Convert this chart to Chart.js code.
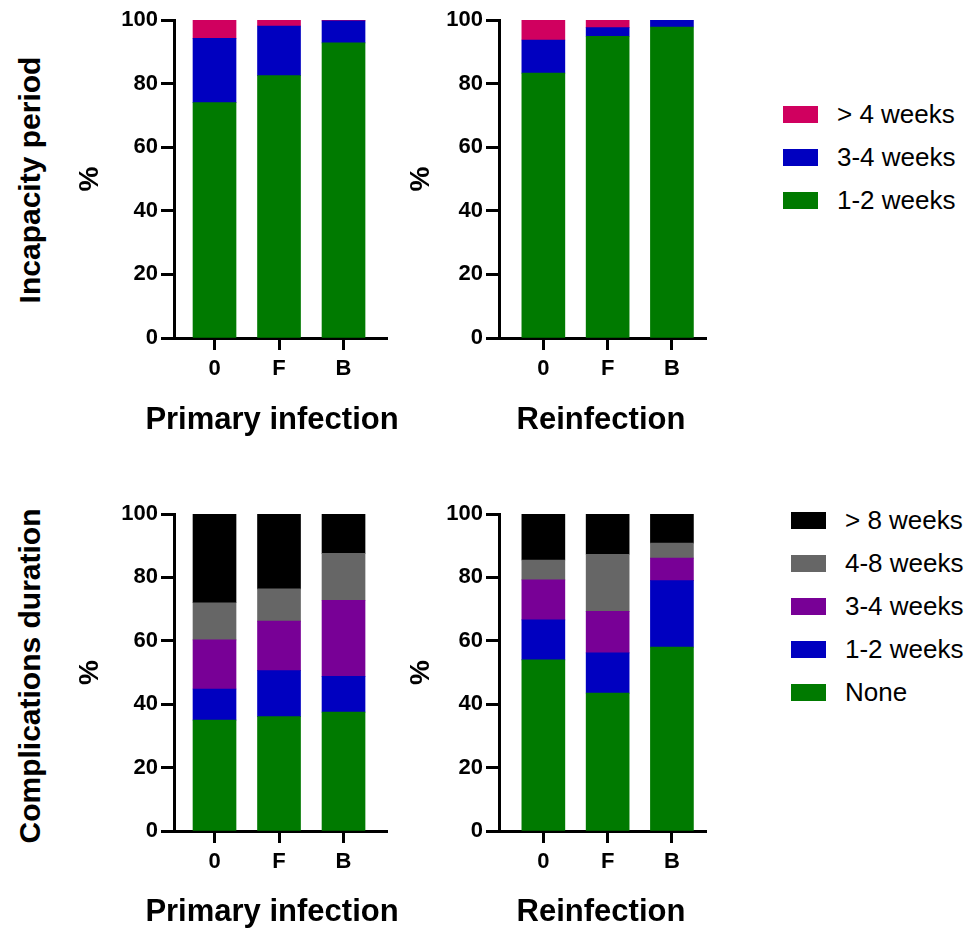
<!DOCTYPE html>
<html>
<head>
<meta charset="utf-8">
<script src="https://cdn.jsdelivr.net/npm/chart.js@4"></script>
<style>
  html, body { margin: 0; padding: 0; background: #fff; overflow: hidden; }
  body { width: 974px; height: 931px; position: relative; font-family: Arial, "Liberation Sans", Helvetica, sans-serif; }
  canvas { position: absolute; }
  .rowlabel { position: absolute; font-weight: bold; font-size: 30px; color: #000; white-space: nowrap;
    transform: translate(-50%, -50%) rotate(-90deg); }
  .xtitle { position: absolute; font-weight: bold; font-size: 31px; color: #000; white-space: nowrap;
    transform: translate(-50%, -50%); }
  .legend { position: absolute; }
  .legend .item { position: absolute; left: 0; height: 43px; white-space: nowrap; }
  .legend .box { position: absolute; left: 0; width: 35px; height: 17px; top: -8px; }
  .legend .txt { position: absolute; left: 54px; top: -15px; font-size: 26px; color: #000; line-height: 30px; }
</style>
</head>
<body>

<div class="rowlabel" style="left:30px;top:180px;">Incapacity period</div>
<div class="rowlabel" style="left:30px;top:676px;">Complications duration</div>

<canvas id="incPrimary" width="327" height="450" style="left:70px;top:0px;"></canvas>
<canvas id="incReinf" width="317" height="450" style="left:399px;top:0px;"></canvas>
<canvas id="compPrimary" width="327" height="437" style="left:70px;top:494px;"></canvas>
<canvas id="compReinf" width="317" height="437" style="left:399px;top:494px;"></canvas>

<div class="xtitle" style="left:272px;top:419px;">Primary infection</div>
<div class="xtitle" style="left:601px;top:419px;">Reinfection</div>
<div class="xtitle" style="left:272px;top:911px;">Primary infection</div>
<div class="xtitle" style="left:601px;top:911px;">Reinfection</div>

<div class="legend" id="incLegend" style="left:783px;top:114px;"></div>
<div class="legend" id="compLegend" style="left:791px;top:520px;"></div>

<script>
// categories (x tick labels)
var groups = ['0', 'F', 'B'];

// incapacity period, % per group
var incLabels = ['1-2 weeks', '3-4 weeks', '> 4 weeks'];
var incColors = ['#007a00', '#0000c0', '#d0005f'];
var incPrimary1to2 = [74.0, 82.5, 92.8];
var incPrimary3to4 = [20.2, 15.6, 6.9];
var incPrimaryOver4 = [5.8, 1.9, 0.3];
var incReinf1to2 = [83.3, 94.9, 97.8];
var incReinf3to4 = [10.4, 2.7, 2.2];
var incReinfOver4 = [6.3, 2.4, 0.0];

// complications duration, % per group
var compLabels = ['None', '1-2 weeks', '3-4 weeks', '4-8 weeks', '> 8 weeks'];
var compColors = ['#007a00', '#0000c0', '#780096', '#666666', '#000000'];
var compPrimaryNone = [35.0, 36.1, 37.5];
var compPrimary1to2 = [9.8, 14.5, 11.3];
var compPrimary3to4 = [15.5, 15.6, 24.0];
var compPrimary4to8 = [11.7, 10.2, 14.8];
var compPrimaryOver8 = [28.0, 23.6, 12.4];
var compReinfNone = [54.0, 43.5, 58.0];
var compReinf1to2 = [12.6, 12.7, 21.0];
var compReinf3to4 = [12.6, 13.1, 7.1];
var compReinf4to8 = [6.3, 18.0, 4.7];
var compReinfOver8 = [14.5, 12.7, 9.2];

// y axis ticks
var yMin = 0, yMax = 100, yStep = 20;

var FONT = 'Arial, "Liberation Sans", Helvetica, sans-serif';

function makeDatasets(labels, colors, series) {
    return series.map(function(values, s) {
        return {
            label: labels[s],
            backgroundColor: colors[s],
            borderWidth: 0,
            barThickness: 43,
            data: values.map(function(v, i) { return {x: i, y: v}; })
        };
    });
}

/**
 * one panel: stacked bars, left y axis with "%"
 * (the bottom titles are html, canvas would squeeze them to the plot width)
 */
function drawPanel(id, datasets, opts) {
    return new Chart(document.getElementById(id), {
        type: 'bar',
        data: {datasets: datasets},
        options: {
            responsive: false,
            animation: false,
            layout: {padding: {top: 20, left: 0, right: 10, bottom: 0}},
            plugins: {legend: {display: false}, tooltip: {enabled: false}},
            scales: {
                x: {
                    type: 'linear',
                    stacked: true,
                    offset: false,
                    min: opts.xMin,
                    max: opts.xMax,
                    afterBuildTicks: function(scale) {
                        scale.ticks = groups.map(function(g, i) { return {value: i}; });
                    },
                    afterFit: function(scale) { scale.height = opts.xHeight; },
                    ticks: {
                        autoSkip: false,
                        maxRotation: 0,
                        padding: 6,
                        color: '#000',
                        font: {family: FONT, size: 22, weight: 'bold'},
                        callback: function(v) { return groups[v]; }
                    },
                    grid: {drawOnChartArea: false, offset: false, tickLength: 12, tickWidth: 3, tickColor: '#000'},
                    border: {color: '#000', width: 3}
                },
                y: {
                    stacked: true,
                    min: yMin,
                    max: yMax,
                    afterFit: function(scale) { scale.width = opts.yWidth; },
                    ticks: {
                        stepSize: yStep,
                        padding: 3,
                        color: '#000',
                        font: {family: FONT, size: 22, weight: 'bold'}
                    },
                    grid: {drawOnChartArea: false, tickLength: 13, tickWidth: 3, tickColor: '#000'},
                    border: {color: '#000', width: 3},
                    title: {
                        display: true,
                        text: '%',
                        color: '#000',
                        font: {family: FONT, size: 28, weight: 'bold'},
                        padding: {top: opts.yTitlePad, bottom: 0}
                    }
                }
            }
        }
    });
}

function buildLegend(id, labels, colors) {
    var el = document.getElementById(id);
    // top to bottom is the reverse of the stacking order
    for (var k = labels.length - 1, row = 0; k >= 0; k--, row++) {
        var item = document.createElement('div');
        item.className = 'item';
        item.style.top = (row * 43) + 'px';
        item.innerHTML = '<div class="box" style="background:' + colors[k] + '"></div>' +
            '<div class="txt">' + labels[k] + '</div>';
        el.appendChild(item);
    }
}

var leftOpts = {xMin: -0.628, xMax: 2.674, yWidth: 104, yTitlePad: 3, xHeight: 112};
var rightOpts = {xMin: -0.69, xMax: 2.53, yWidth: 100, yTitlePad: 5, xHeight: 112};

drawPanel('incPrimary',
    makeDatasets(incLabels, incColors, [incPrimary1to2, incPrimary3to4, incPrimaryOver4]), leftOpts);
drawPanel('incReinf',
    makeDatasets(incLabels, incColors, [incReinf1to2, incReinf3to4, incReinfOver4]), rightOpts);

drawPanel('compPrimary',
    makeDatasets(compLabels, compColors, [compPrimaryNone, compPrimary1to2, compPrimary3to4, compPrimary4to8, compPrimaryOver8]),
    Object.assign({}, leftOpts, {xHeight: 100}));
drawPanel('compReinf',
    makeDatasets(compLabels, compColors, [compReinfNone, compReinf1to2, compReinf3to4, compReinf4to8, compReinfOver8]),
    Object.assign({}, rightOpts, {xHeight: 100}));

buildLegend('incLegend', incLabels, incColors);
buildLegend('compLegend', compLabels, compColors);
</script>
</body>
</html>
